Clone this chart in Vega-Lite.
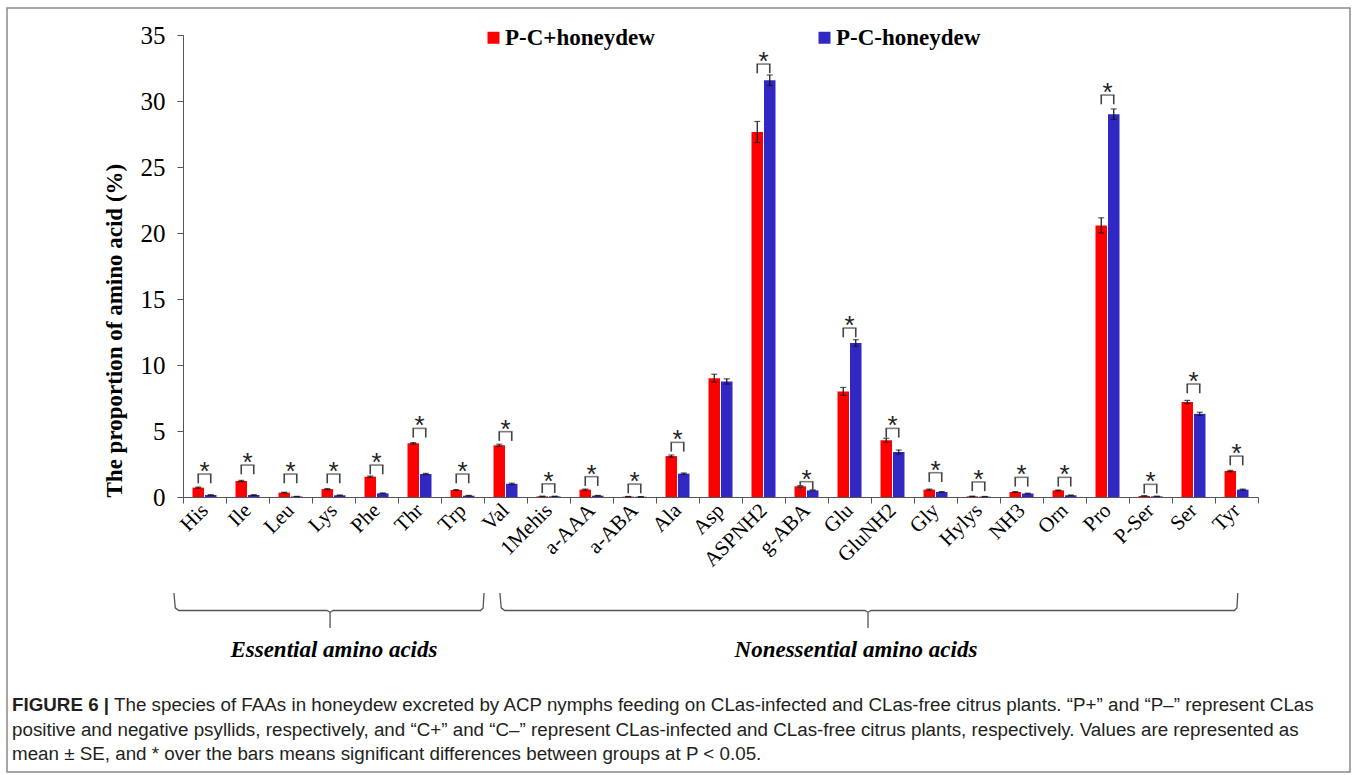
{
  "$schema": "https://vega.github.io/schema/vega-lite/v6.json",
  "width": 1343,
  "height": 764,
  "autosize": {"type": "none"},
  "padding": {"left": 7, "top": 8, "right": 8, "bottom": 3},
  "background": "white",
  "config": {"view": {"stroke": "#8a8a8a", "strokeWidth": 1.5}, "font": "Liberation Serif"},
  "datasets": {
    "main": [
      {"aa": "His", "grp": "P-C+honeydew", "value": 0.71, "lo": 0.67, "hi": 0.75},
      {"aa": "His", "grp": "P-C-honeydew", "value": 0.15, "lo": 0.13, "hi": 0.17},
      {"aa": "Ile", "grp": "P-C+honeydew", "value": 1.21, "lo": 1.16, "hi": 1.26},
      {"aa": "Ile", "grp": "P-C-honeydew", "value": 0.15, "lo": 0.13, "hi": 0.17},
      {"aa": "Leu", "grp": "P-C+honeydew", "value": 0.33, "lo": 0.30, "hi": 0.36},
      {"aa": "Leu", "grp": "P-C-honeydew", "value": 0.04, "lo": 0.03, "hi": 0.05},
      {"aa": "Lys", "grp": "P-C+honeydew", "value": 0.60, "lo": 0.56, "hi": 0.64},
      {"aa": "Lys", "grp": "P-C-honeydew", "value": 0.13, "lo": 0.11, "hi": 0.15},
      {"aa": "Phe", "grp": "P-C+honeydew", "value": 1.54, "lo": 1.49, "hi": 1.59},
      {"aa": "Phe", "grp": "P-C-honeydew", "value": 0.28, "lo": 0.25, "hi": 0.31},
      {"aa": "Thr", "grp": "P-C+honeydew", "value": 4.07, "lo": 4.02, "hi": 4.12},
      {"aa": "Thr", "grp": "P-C-honeydew", "value": 1.74, "lo": 1.69, "hi": 1.79},
      {"aa": "Trp", "grp": "P-C+honeydew", "value": 0.53, "lo": 0.50, "hi": 0.56},
      {"aa": "Trp", "grp": "P-C-honeydew", "value": 0.10, "lo": 0.08, "hi": 0.12},
      {"aa": "Val", "grp": "P-C+honeydew", "value": 3.92, "lo": 3.84, "hi": 4.00},
      {"aa": "Val", "grp": "P-C-honeydew", "value": 1.00, "lo": 0.95, "hi": 1.05},
      {"aa": "1Mehis", "grp": "P-C+honeydew", "value": 0.05, "lo": 0.04, "hi": 0.06},
      {"aa": "1Mehis", "grp": "P-C-honeydew", "value": 0.05, "lo": 0.04, "hi": 0.06},
      {"aa": "a-AAA", "grp": "P-C+honeydew", "value": 0.56, "lo": 0.52, "hi": 0.60},
      {"aa": "a-AAA", "grp": "P-C-honeydew", "value": 0.10, "lo": 0.08, "hi": 0.12},
      {"aa": "a-ABA", "grp": "P-C+honeydew", "value": 0.03, "lo": 0.02, "hi": 0.04},
      {"aa": "a-ABA", "grp": "P-C-honeydew", "value": 0.02, "lo": 0.01, "hi": 0.03},
      {"aa": "Ala", "grp": "P-C+honeydew", "value": 3.10, "lo": 3.02, "hi": 3.18},
      {"aa": "Ala", "grp": "P-C-honeydew", "value": 1.77, "lo": 1.72, "hi": 1.82},
      {"aa": "Asp", "grp": "P-C+honeydew", "value": 9.00, "lo": 8.70, "hi": 9.30},
      {"aa": "Asp", "grp": "P-C-honeydew", "value": 8.75, "lo": 8.55, "hi": 8.95},
      {"aa": "ASPNH2", "grp": "P-C+honeydew", "value": 27.65, "lo": 26.85, "hi": 28.45},
      {"aa": "ASPNH2", "grp": "P-C-honeydew", "value": 31.57, "lo": 31.17, "hi": 31.97},
      {"aa": "g-ABA", "grp": "P-C+honeydew", "value": 0.81, "lo": 0.76, "hi": 0.86},
      {"aa": "g-ABA", "grp": "P-C-honeydew", "value": 0.50, "lo": 0.46, "hi": 0.54},
      {"aa": "Glu", "grp": "P-C+honeydew", "value": 8.00, "lo": 7.70, "hi": 8.30},
      {"aa": "Glu", "grp": "P-C-honeydew", "value": 11.67, "lo": 11.42, "hi": 11.92},
      {"aa": "GluNH2", "grp": "P-C+honeydew", "value": 4.30, "lo": 4.15, "hi": 4.45},
      {"aa": "GluNH2", "grp": "P-C-honeydew", "value": 3.41, "lo": 3.26, "hi": 3.56},
      {"aa": "Gly", "grp": "P-C+honeydew", "value": 0.56, "lo": 0.52, "hi": 0.60},
      {"aa": "Gly", "grp": "P-C-honeydew", "value": 0.38, "lo": 0.35, "hi": 0.41},
      {"aa": "Hylys", "grp": "P-C+honeydew", "value": 0.05, "lo": 0.04, "hi": 0.06},
      {"aa": "Hylys", "grp": "P-C-honeydew", "value": 0.03, "lo": 0.02, "hi": 0.04},
      {"aa": "NH3", "grp": "P-C+honeydew", "value": 0.38, "lo": 0.35, "hi": 0.41},
      {"aa": "NH3", "grp": "P-C-honeydew", "value": 0.26, "lo": 0.23, "hi": 0.29},
      {"aa": "Orn", "grp": "P-C+honeydew", "value": 0.50, "lo": 0.47, "hi": 0.53},
      {"aa": "Orn", "grp": "P-C-honeydew", "value": 0.13, "lo": 0.11, "hi": 0.15},
      {"aa": "Pro", "grp": "P-C+honeydew", "value": 20.57, "lo": 20.00, "hi": 21.15},
      {"aa": "Pro", "grp": "P-C-honeydew", "value": 29.00, "lo": 28.60, "hi": 29.40},
      {"aa": "P-Ser", "grp": "P-C+honeydew", "value": 0.08, "lo": 0.06, "hi": 0.10},
      {"aa": "P-Ser", "grp": "P-C-honeydew", "value": 0.05, "lo": 0.04, "hi": 0.06},
      {"aa": "Ser", "grp": "P-C+honeydew", "value": 7.20, "lo": 7.08, "hi": 7.32},
      {"aa": "Ser", "grp": "P-C-honeydew", "value": 6.30, "lo": 6.18, "hi": 6.42},
      {"aa": "Tyr", "grp": "P-C+honeydew", "value": 1.97, "lo": 1.92, "hi": 2.02},
      {"aa": "Tyr", "grp": "P-C-honeydew", "value": 0.56, "lo": 0.52, "hi": 0.60}
    ],
    "sig": [
      {"aa": "His", "top": 1.74, "bottom": 1.04},
      {"aa": "Ile", "top": 2.42, "bottom": 1.72},
      {"aa": "Leu", "top": 1.74, "bottom": 1.04},
      {"aa": "Lys", "top": 1.74, "bottom": 1.04},
      {"aa": "Phe", "top": 2.42, "bottom": 1.72},
      {"aa": "Thr", "top": 5.2, "bottom": 4.5},
      {"aa": "Trp", "top": 1.74, "bottom": 1.04},
      {"aa": "Val", "top": 4.95, "bottom": 4.25},
      {"aa": "1Mehis", "top": 1.0, "bottom": 0.3},
      {"aa": "a-AAA", "top": 1.54, "bottom": 0.84},
      {"aa": "a-ABA", "top": 0.98, "bottom": 0.28},
      {"aa": "Ala", "top": 4.14, "bottom": 3.44},
      {"aa": "ASPNH2", "top": 32.8, "bottom": 32.1},
      {"aa": "g-ABA", "top": 1.16, "bottom": 0.46},
      {"aa": "Glu", "top": 12.8, "bottom": 12.1},
      {"aa": "GluNH2", "top": 5.2, "bottom": 4.5},
      {"aa": "Gly", "top": 1.84, "bottom": 1.14},
      {"aa": "Hylys", "top": 1.14, "bottom": 0.44},
      {"aa": "NH3", "top": 1.49, "bottom": 0.79},
      {"aa": "Orn", "top": 1.49, "bottom": 0.79},
      {"aa": "Pro", "top": 30.45, "bottom": 29.75},
      {"aa": "P-Ser", "top": 0.96, "bottom": 0.26},
      {"aa": "Ser", "top": 8.56, "bottom": 7.86},
      {"aa": "Tyr", "top": 3.1, "bottom": 2.4}
    ],
    "braces": [
      {"brace": "Essential", "seq": 1, "pos": -0.21, "lev": 0},
      {"brace": "Essential", "seq": 2, "pos": -0.18, "lev": 0.85},
      {"brace": "Essential", "seq": 3, "pos": -0.1, "lev": 1},
      {"brace": "Essential", "seq": 4, "pos": 3.35, "lev": 1},
      {"brace": "Essential", "seq": 5, "pos": 3.42, "lev": 1.1},
      {"brace": "Essential", "seq": 6, "pos": 3.42, "lev": 2},
      {"brace": "Essential", "seq": 7, "pos": 3.42, "lev": 1.1},
      {"brace": "Essential", "seq": 8, "pos": 3.49, "lev": 1},
      {"brace": "Essential", "seq": 9, "pos": 6.92, "lev": 1},
      {"brace": "Essential", "seq": 10, "pos": 6.98, "lev": 0.85},
      {"brace": "Essential", "seq": 11, "pos": 7.0, "lev": 0},
      {"brace": "Nonessential", "seq": 1, "pos": 7.37, "lev": 0},
      {"brace": "Nonessential", "seq": 2, "pos": 7.4, "lev": 0.85},
      {"brace": "Nonessential", "seq": 3, "pos": 7.48, "lev": 1},
      {"brace": "Nonessential", "seq": 4, "pos": 15.86, "lev": 1},
      {"brace": "Nonessential", "seq": 5, "pos": 15.93, "lev": 1.1},
      {"brace": "Nonessential", "seq": 6, "pos": 15.93, "lev": 2},
      {"brace": "Nonessential", "seq": 7, "pos": 15.93, "lev": 1.1},
      {"brace": "Nonessential", "seq": 8, "pos": 16.0, "lev": 1},
      {"brace": "Nonessential", "seq": 9, "pos": 24.45, "lev": 1},
      {"brace": "Nonessential", "seq": 10, "pos": 24.51, "lev": 0.85},
      {"brace": "Nonessential", "seq": 11, "pos": 24.53, "lev": 0}
    ],
    "blabels": [
      {"label": "Essential amino acids", "pos": 3.51, "lev": 3.25},
      {"label": "Nonessential amino acids", "pos": 15.65, "lev": 3.25}
    ],
    "caption": [
      {"line": 1, "seg": "bold", "text": "FIGURE 6 |"},
      {"line": 1, "seg": "normal", "text": "The species of FAAs in honeydew excreted by ACP nymphs feeding on CLas-infected and CLas-free citrus plants. “P+” and “P–” represent CLas"},
      {"line": 2, "seg": "normal", "text": "positive and negative psyllids, respectively, and “C+” and “C–” represent CLas-infected and CLas-free citrus plants, respectively. Values are represented as"},
      {"line": 3, "seg": "normal", "text": "mean ± SE, and * over the bars means significant differences between groups at P < 0.05."}
    ]
  },
  "layer": [
    {
      "encoding": {
        "x": {
          "field": "aa", "type": "nominal", "title": null,
          "scale": {"domain": ["His", "Ile", "Leu", "Lys", "Phe", "Thr", "Trp", "Val", "1Mehis", "a-AAA", "a-ABA", "Ala", "Asp", "ASPNH2", "g-ABA", "Glu", "GluNH2", "Gly", "Hylys", "NH3", "Orn", "Pro", "P-Ser", "Ser", "Tyr"], "range": [176, 1251], "paddingInner": 0, "paddingOuter": 0},
          "axis": {"labelAngle": -45, "labelAlign": "right", "labelBaseline": "middle", "labelFontSize": 21, "labelFont": "Liberation Serif", "labelColor": "#000", "labelPadding": 4, "tickBand": "extent", "tickSize": 6, "domainColor": "#555", "tickColor": "#555", "offset": -275, "labelOverlap": false, "labelLimit": 0, "grid": false}
        }
      },
      "layer": [
        {
          "data": {"name": "main"},
          "mark": {"type": "bar"},
          "encoding": {
            "xOffset": {"field": "grp", "type": "nominal", "scale": {"domain": ["P-C+honeydew", "P-C-honeydew"], "paddingInner": 0.08, "paddingOuter": 0.76}},
            "y": {"field": "value", "type": "quantitative", "scale": {"domain": [0, 35], "range": [489, 27], "nice": false},
              "axis": {"title": "The proportion of amino acid (%)", "titleFont": "Liberation Serif", "titleFontSize": 23, "titleFontWeight": "bold", "titleColor": "#000", "titleAnchor": "start", "values": [0, 5, 10, 15, 20, 25, 30, 35], "labelFontSize": 25, "labelFont": "Liberation Serif", "labelColor": "#000", "tickSize": 6, "labelPadding": 12, "titlePadding": 14, "offset": -176, "grid": false, "domainColor": "#555", "tickColor": "#555"}},
            "color": {"field": "grp", "type": "nominal", "scale": {"domain": ["P-C+honeydew", "P-C-honeydew"], "range": ["#FF0000", "#3128C4"]},
              "legend": {"orient": "none", "legendX": 475, "legendY": 18, "direction": "horizontal", "columns": 2, "columnPadding": 158, "title": null, "symbolType": "square", "symbolSize": 144, "symbolStrokeWidth": 0, "labelFont": "Liberation Serif", "labelFontSize": 23, "labelFontWeight": "bold", "labelColor": "#000", "labelOffset": 0}}
          }
        },
        {
          "data": {"name": "main"},
          "mark": {"type": "rule", "color": "#111", "strokeWidth": 1.2},
          "encoding": {
            "xOffset": {"field": "grp", "type": "nominal"},
            "y": {"field": "lo", "type": "quantitative"},
            "y2": {"field": "hi"}
          }
        },
        {
          "data": {"name": "main"},
          "mark": {"type": "tick", "color": "#111", "size": 6, "thickness": 1.2},
          "encoding": {
            "xOffset": {"field": "grp", "type": "nominal"},
            "y": {"field": "lo", "type": "quantitative"}
          }
        },
        {
          "data": {"name": "main"},
          "mark": {"type": "tick", "color": "#111", "size": 6, "thickness": 1.2},
          "encoding": {
            "xOffset": {"field": "grp", "type": "nominal"},
            "y": {"field": "hi", "type": "quantitative"}
          }
        },
        {
          "data": {"name": "sig"},
          "mark": {"type": "rule", "color": "#444", "strokeWidth": 1.6},
          "encoding": {
            "xOffset": {"datum": "P-C+honeydew"},
            "y": {"field": "top", "type": "quantitative"},
            "y2": {"field": "bottom"}
          }
        },
        {
          "data": {"name": "sig"},
          "mark": {"type": "rule", "color": "#444", "strokeWidth": 1.6},
          "encoding": {
            "xOffset": {"datum": "P-C-honeydew"},
            "y": {"field": "top", "type": "quantitative"},
            "y2": {"field": "bottom"}
          }
        },
        {
          "data": {"name": "sig"},
          "mark": {"type": "tick", "color": "#444", "size": 14, "thickness": 1.6},
          "encoding": {
            "y": {"field": "top", "type": "quantitative"}
          }
        },
        {
          "data": {"name": "sig"},
          "mark": {"type": "text", "text": "*", "font": "Liberation Sans", "fontSize": 26, "color": "#222", "baseline": "alphabetic", "dy": 6},
          "encoding": {
            "y": {"field": "top", "type": "quantitative"}
          }
        }
      ]
    },
    {
      "encoding": {
        "x": {"field": "pos", "type": "quantitative", "scale": {"domain": [0, 25], "range": [176, 1251], "nice": false, "zero": false}, "axis": null},
        "y": {"field": "lev", "type": "quantitative", "scale": {"domain": [0, 2], "range": [585, 620], "nice": false, "zero": false}, "axis": null}
      },
      "layer": [
        {
          "data": {"name": "braces"},
          "mark": {"type": "line", "color": "#555", "strokeWidth": 1.3},
          "encoding": {
            "detail": {"field": "brace"},
            "order": {"field": "seq", "type": "quantitative"}
          }
        },
        {
          "data": {"name": "blabels"},
          "mark": {"type": "text", "font": "Liberation Serif", "fontSize": 23, "fontWeight": "bold", "fontStyle": "italic", "color": "#000", "baseline": "middle", "align": "center"},
          "encoding": {"text": {"field": "label"}}
        }
      ]
    },
    {
      "data": {"name": "caption"},
      "encoding": {
        "x": {"datum": 0, "type": "quantitative", "scale": {"domain": [0, 1], "range": [5, 1340]}, "axis": null},
        "y": {"field": "line", "type": "quantitative", "scale": {"domain": [1, 3], "range": [697, 746], "nice": false, "zero": false}, "axis": null},
        "text": {"field": "text"}
      },
      "layer": [
        {
          "transform": [{"filter": "datum.seg === 'bold'"}],
          "mark": {"type": "text", "font": "Liberation Sans", "fontSize": 18.8, "fontWeight": "bold", "color": "#231f20", "align": "left", "baseline": "middle"}
        },
        {
          "transform": [{"filter": "datum.seg === 'normal' && datum.line === 1"}],
          "mark": {"type": "text", "font": "Liberation Sans", "fontSize": 18.8, "color": "#231f20", "align": "left", "baseline": "middle", "dx": 102}
        },
        {
          "transform": [{"filter": "datum.seg === 'normal' && datum.line > 1"}],
          "mark": {"type": "text", "font": "Liberation Sans", "fontSize": 18.8, "color": "#231f20", "align": "left", "baseline": "middle"}
        }
      ]
    }
  ],
  "resolve": {"scale": {"x": "independent", "y": "independent"}}
}
